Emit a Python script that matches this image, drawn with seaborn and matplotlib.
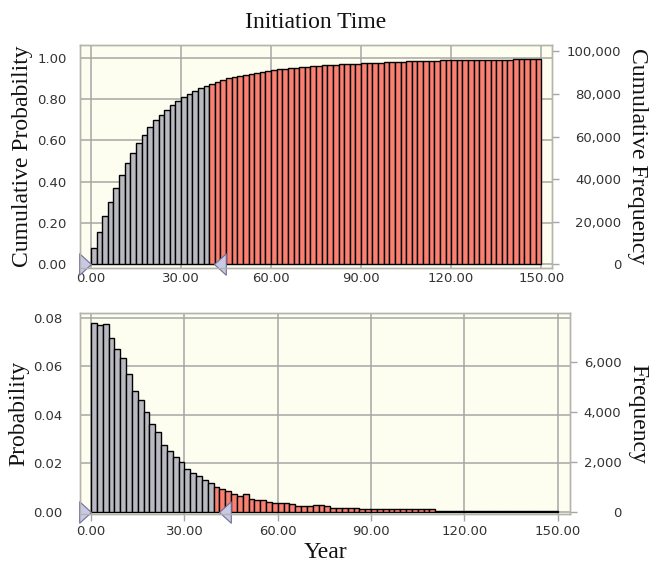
import numpy as np
import pandas as pd
import matplotlib
matplotlib.use("Agg")
import matplotlib.pyplot as plt
from matplotlib.path import Path
from matplotlib.ticker import FormatStrFormatter, FuncFormatter
import seaborn as sns

# ---------------------------------------------------------------------------
# Forecast data: initiation time, 80 bins of equal width spanning 0-150 years
# ---------------------------------------------------------------------------
bin_start, bin_stop, n_bins = 0.0, 150.0, 80
probability = [
    0.0779, 0.0770, 0.0773, 0.0717, 0.0672, 0.0632, 0.0569, 0.0499, 0.0459, 0.0410,
    0.0360, 0.0328, 0.0276, 0.0248, 0.0225, 0.0203, 0.0175, 0.0159, 0.0145, 0.0131,
    0.0117, 0.0101, 0.0094, 0.0083, 0.0073, 0.0065, 0.0072, 0.0051, 0.0048, 0.0048,
    0.0041, 0.0037, 0.0035, 0.0035, 0.0031, 0.0025, 0.0025, 0.0025, 0.0028, 0.0028,
    0.0021, 0.0016, 0.0016, 0.0016, 0.0016, 0.0016, 0.0012, 0.0012, 0.0012, 0.0012,
    0.0012, 0.0012, 0.0012, 0.0012, 0.0012, 0.0012, 0.0012, 0.0012, 0.0012, 0.0004,
    0.0004, 0.0004, 0.0004, 0.0004, 0.0004, 0.0004, 0.0004, 0.0004, 0.0004, 0.0004,
    0.0004, 0.0004, 0.0004, 0.0004, 0.0004, 0.0004, 0.0004, 0.0004, 0.0004, 0.0004,
]
n_trials = 97000                      # frequency scale of the right-hand axes
certainty_range = [0.0, 41.0]         # certainty grabbers (years)

x_ticks = [0, 30, 60, 90, 120, 150]
cum_ticks = [0.0, 0.2, 0.4, 0.6, 0.8, 1.0]
cum_freq_ticks = [0, 20000, 40000, 60000, 80000, 100000]
prob_ticks = [0.00, 0.02, 0.04, 0.06, 0.08]
freq_ticks = [0, 2000, 4000, 6000]

title = "Initiation Time"
x_label = "Year"

# ---------------------------------------------------------------------------
edges = np.linspace(bin_start, bin_stop, n_bins + 1)
centers = (edges[:-1] + edges[1:]) / 2
prob = np.asarray(probability)
df = pd.DataFrame({
    "year": centers,
    "prob": prob,
    "cum": np.cumsum(prob),
    "inside": edges[1:] <= certainty_range[1],
})
n_in = int(df["inside"].sum())

sns.set_theme(style="white")
plt.rcParams["font.family"] = ["DejaVu Sans"]

GRAY = "#b9b9c1"
SALMON = "#fa8072"
CREAM = "#fdfdf0"
GRID = "#a6a6a6"
FRAME = "#b4b4aa"
TICK_TXT = "#333333"
GRAB_FACE = "#c9c9e6"
GRAB_EDGE = "#6e6e96"
SERIF = ["Liberation Serif", "DejaVu Serif"]

W, H = 656, 566
fig = plt.figure(figsize=(W / 100, H / 100), dpi=100)
fig.patch.set_facecolor("white")


def frac(left, top, right, bottom):
    return [left / W, 1 - bottom / H, (right - left) / W, (bottom - top) / H]


ax_top = fig.add_axes(frac(80, 45, 551.7, 268))
ax_bot = fig.add_axes(frac(80, 313.3, 570, 514))

right_grab = Path([(-1.1, -1), (0, 0), (-1.1, 1), (-1.1, -1)],
                  [Path.MOVETO, Path.LINETO, Path.LINETO, Path.CLOSEPOLY])
left_grab = Path([(1.1, -1), (0, 0), (1.1, 1), (1.1, -1)],
                 [Path.MOVETO, Path.LINETO, Path.LINETO, Path.CLOSEPOLY])


def draw_panel(ax, column, xlim, ylim, yticks, yfmt, ylabel, left_pad,
               rticks, rlabel, right_pad, xtick_len):
    ax.set_facecolor(CREAM)
    ax.set_axisbelow(True)
    # bins inside the certainty range in gray, the rest in salmon
    sns.histplot(data=df[df["inside"]], x="year", weights=column,
                 bins=n_in, binrange=(edges[0], edges[n_in]),
                 color=GRAY, edgecolor="black", linewidth=1.0, alpha=1, ax=ax)
    sns.histplot(data=df[~df["inside"]], x="year", weights=column,
                 bins=n_bins - n_in, binrange=(edges[n_in], edges[-1]),
                 color=SALMON, edgecolor="black", linewidth=1.0, alpha=1, ax=ax)

    ax.set_xlim(*xlim)
    ax.set_ylim(*ylim)
    ax.set_xticks(x_ticks)
    ax.set_yticks(yticks)
    ax.xaxis.set_major_formatter(FormatStrFormatter("%.2f"))
    ax.yaxis.set_major_formatter(FormatStrFormatter(yfmt))
    ax.grid(True, color=GRID, linewidth=1.1)
    for s in ax.spines.values():
        s.set_color(FRAME)
        s.set_linewidth(1.0)
    ax.tick_params(axis="y", length=0, pad=left_pad, labelsize=9.5,
                   labelcolor=TICK_TXT)
    ax.tick_params(axis="x", length=xtick_len, width=1.0, color=GRID,
                   pad=3, labelsize=9.5, labelcolor=TICK_TXT, bottom=True)
    ax.set_ylabel(ylabel, family=SERIF, fontsize=17, labelpad=3,
                  color="#111111")
    ax.set_xlabel("")

    # certainty grabbers on the baseline
    ax.plot([certainty_range[0]], [0], linestyle="none", marker=right_grab,
            markersize=17, markerfacecolor=GRAB_FACE,
            markeredgecolor=GRAB_EDGE, markeredgewidth=0.8,
            clip_on=False, zorder=6)
    ax.plot([certainty_range[1]], [0], linestyle="none", marker=left_grab,
            markersize=17, markerfacecolor=GRAB_FACE,
            markeredgecolor=GRAB_EDGE, markeredgewidth=0.8,
            clip_on=False, zorder=6)

    tw = ax.twinx()
    tw.set_ylim(np.array(ax.get_ylim()) * n_trials)
    tw.set_yticks(rticks)
    tw.yaxis.set_major_formatter(FuncFormatter(lambda v, _: f"{v:,.0f}"))
    tw.tick_params(axis="y", length=5, width=1.0, color=GRID,
                   pad=right_pad, labelsize=9.5, labelcolor=TICK_TXT)
    for t in tw.get_yticklabels():
        t.set_horizontalalignment("right")
    for s in tw.spines.values():
        s.set_color(FRAME)
        s.set_linewidth(1.0)
    tw.grid(False)
    tw.set_ylabel(rlabel, family=SERIF, fontsize=17, rotation=270,
                  va="bottom", labelpad=4, color="#111111")
    return tw


draw_panel(ax_top, "cum", (-3.66, 153.5), (-0.018, 1.0615), cum_ticks,
           "%.2f", "Cumulative Probability", 9.5,
           cum_freq_ticks, "Cumulative Frequency", 45, 0)
draw_panel(ax_bot, "prob", (-3.535, 153.9), (-0.001, 0.0818), prob_ticks,
           "%.2f", "Probability", 12.5,
           freq_ticks, "Frequency", 32, 5)

ax_bot.set_xlabel(x_label, family=SERIF, fontsize=17, labelpad=3,
                  color="#111111")

fig.text((80 + 551.7) / 2 / W, 1 - 27.5 / H, title, family=SERIF,
         fontsize=17, ha="center", va="baseline", color="#111111")

fig.savefig("out.png", dpi=100, facecolor="white")
